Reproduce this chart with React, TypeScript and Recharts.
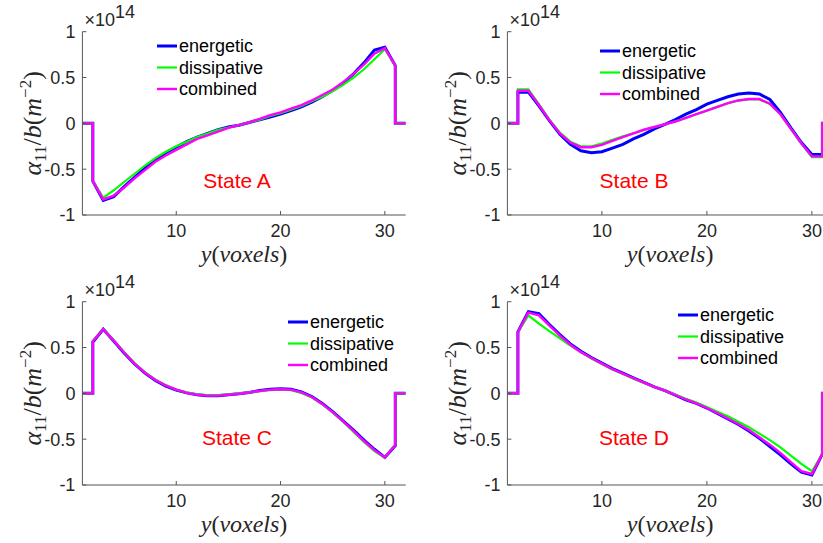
import React from "react";
import { Line, LineChart, XAxis, YAxis } from "recharts";

// voxel positions; the repeated 2 and 31 give the vertical jumps at the slab edges
const Y_VOXELS = [1, 2, 2, 3, 4, 5, 6, 7, 8, 9, 10, 11, 12, 13, 14, 15, 16, 17, 18, 19, 20, 21, 22, 23, 24, 25, 26, 27, 28, 29, 30, 31, 31, 32];
const X_TICKS = [10, 20, 30];
const Y_TICKS = [-1, -0.5, 0, 0.5, 1];

// values in units of 1e14
const A_ENERGETIC = [0, 0, -0.63, -0.84, -0.8, -0.69, -0.59, -0.49, -0.4, -0.32, -0.26, -0.2, -0.15, -0.11, -0.07, -0.04, -0.02, 0.01, 0.04, 0.07, 0.1, 0.14, 0.18, 0.23, 0.29, 0.36, 0.44, 0.54, 0.66, 0.8, 0.83, 0.63, 0, 0];
const A_DISSIPATIVE = [0, 0, -0.63, -0.81, -0.73, -0.64, -0.55, -0.46, -0.38, -0.31, -0.25, -0.2, -0.15, -0.11, -0.07, -0.045, -0.02, 0.01, 0.04, 0.08, 0.11, 0.15, 0.19, 0.24, 0.29, 0.35, 0.42, 0.5, 0.59, 0.7, 0.81, 0.63, 0, 0];
const A_COMBINED = [0, 0, -0.63, -0.83, -0.79, -0.7, -0.6, -0.51, -0.42, -0.35, -0.29, -0.23, -0.17, -0.13, -0.09, -0.05, -0.02, 0.01, 0.05, 0.09, 0.12, 0.16, 0.2, 0.25, 0.31, 0.37, 0.45, 0.54, 0.64, 0.76, 0.82, 0.63, 0, 0];

const B_ENERGETIC = [0, 0, 0.34, 0.34, 0.19, 0.03, -0.12, -0.23, -0.3, -0.32, -0.31, -0.27, -0.23, -0.17, -0.12, -0.06, -0.01, 0.04, 0.1, 0.15, 0.21, 0.25, 0.29, 0.32, 0.33, 0.32, 0.26, 0.12, -0.05, -0.21, -0.34, -0.34, 0, 0];
const B_DISSIPATIVE = [0, 0, 0.37, 0.37, 0.21, 0.04, -0.1, -0.2, -0.25, -0.25, -0.22, -0.18, -0.14, -0.11, -0.07, -0.04, -0.01, 0.02, 0.06, 0.1, 0.14, 0.18, 0.22, 0.25, 0.26, 0.26, 0.21, 0.1, -0.06, -0.22, -0.37, -0.37, 0, 0];
const B_COMBINED = [0, 0, 0.355, 0.355, 0.2, 0.035, -0.11, -0.21, -0.26, -0.26, -0.235, -0.19, -0.15, -0.11, -0.07, -0.04, -0.01, 0.02, 0.06, 0.1, 0.14, 0.18, 0.22, 0.25, 0.265, 0.265, 0.215, 0.1, -0.06, -0.22, -0.36, -0.36, 0, 0];

const C_ENERGETIC = [0, 0, 0.56, 0.7, 0.57, 0.44, 0.32, 0.22, 0.14, 0.08, 0.035, 0.005, -0.015, -0.025, -0.025, -0.015, -0.005, 0.01, 0.03, 0.045, 0.05, 0.045, 0.015, -0.035, -0.11, -0.2, -0.3, -0.4, -0.51, -0.61, -0.7, -0.57, 0, 0];
const C_DISSIPATIVE = [0, 0, 0.57, 0.7, 0.58, 0.45, 0.33, 0.23, 0.15, 0.09, 0.04, 0.01, -0.01, -0.02, -0.02, -0.01, 0, 0.01, 0.025, 0.035, 0.04, 0.035, 0.005, -0.045, -0.12, -0.21, -0.31, -0.42, -0.53, -0.63, -0.7, -0.56, 0, 0];
const C_COMBINED = [0, 0, 0.57, 0.7, 0.575, 0.445, 0.325, 0.225, 0.145, 0.085, 0.04, 0.005, -0.015, -0.025, -0.025, -0.015, -0.005, 0.01, 0.025, 0.04, 0.045, 0.04, 0.01, -0.04, -0.115, -0.205, -0.305, -0.41, -0.52, -0.62, -0.7, -0.565, 0, 0];

const D_ENERGETIC = [0, 0, 0.67, 0.89, 0.87, 0.75, 0.64, 0.54, 0.46, 0.39, 0.33, 0.27, 0.22, 0.17, 0.12, 0.07, 0.03, -0.02, -0.07, -0.11, -0.16, -0.22, -0.28, -0.34, -0.41, -0.49, -0.58, -0.67, -0.77, -0.86, -0.89, -0.66, 0, 0];
const D_DISSIPATIVE = [0, 0, 0.67, 0.85, 0.76, 0.68, 0.6, 0.52, 0.45, 0.38, 0.32, 0.26, 0.21, 0.16, 0.115, 0.07, 0.03, -0.015, -0.06, -0.1, -0.15, -0.2, -0.25, -0.31, -0.37, -0.44, -0.51, -0.59, -0.68, -0.77, -0.85, -0.66, 0, 0];
const D_COMBINED = [0, 0, 0.67, 0.88, 0.85, 0.74, 0.63, 0.53, 0.45, 0.385, 0.325, 0.265, 0.215, 0.165, 0.118, 0.07, 0.03, -0.018, -0.067, -0.11, -0.16, -0.215, -0.275, -0.335, -0.4, -0.48, -0.56, -0.65, -0.75, -0.85, -0.88, -0.66, 0, 0];

const SERIES = [
  { key: "energetic", color: "#0000ff", width: 3 },
  { key: "dissipative", color: "#00ff00", width: 2.2 },
  { key: "combined", color: "#ff00ff", width: 2.4 },
];

const AXIS = "#555555";
const INK = "#262626";
const SANS = "'Liberation Sans', Arial, sans-serif";
const SERIF = "'Liberation Serif', 'Times New Roman', serif";

const PLOT_LEFT = 82.4;
const PLOT_TOP = 31.7;
const PLOT_BOTTOM = 215;

function Panel({ left, top, width, state, stateX, stateY, legendX, legendY, energetic, dissipative, combined }) {
  const data = Y_VOXELS.map((x, i) => ({ x, energetic: energetic[i], dissipative: dissipative[i], combined: combined[i] }));
  const height = 270;
  const plotRight = width - 14.3;
  const midX = (PLOT_LEFT + plotRight) / 2;
  const midY = (PLOT_TOP + PLOT_BOTTOM) / 2;
  return (
    <>
      <div style={{ position: "absolute", left, top, width, height }}>
        <LineChart width={width} height={height} data={data} margin={{ top: PLOT_TOP, right: 14.3, bottom: 25, left: 22.4 }}>
          <XAxis
            dataKey="x"
            type="number"
            domain={[1, 32]}
            ticks={X_TICKS}
            interval={0}
            allowDataOverflow
            height={30}
            tickSize={-4}
            tickMargin={13}
            stroke={AXIS}
            tick={{ fill: INK, fontSize: 18, fontFamily: SANS }}
          />
          <XAxis xAxisId="top" orientation="top" type="number" domain={[1, 32]} ticks={X_TICKS} interval={0} allowDataOverflow height={0} tickSize={-4} tick={false} stroke={AXIS} />
          <YAxis
            type="number"
            domain={[-1, 1]}
            ticks={Y_TICKS}
            interval={0}
            allowDataOverflow
            width={60}
            tickSize={-4}
            tickMargin={11}
            stroke={AXIS}
            tick={{ fill: INK, fontSize: 18, fontFamily: SANS }}
          />
          <YAxis yAxisId="right" orientation="right" type="number" domain={[-1, 1]} ticks={Y_TICKS} interval={0} allowDataOverflow width={0} tickSize={-4} tick={false} stroke={AXIS} />
          {SERIES.map((s) => (
            <Line key={s.key} dataKey={s.key} type="linear" stroke={s.color} strokeWidth={s.width} dot={false} isAnimationActive={false} />
          ))}
        </LineChart>
      </div>
      <svg style={{ position: "absolute", left, top, overflow: "visible", pointerEvents: "none" }} width={width} height={height}>
        <text x={PLOT_LEFT + 2} y={PLOT_TOP - 6} fontFamily={SANS} fontSize={18} fill={INK}>
          ×10<tspan dy={-8}>14</tspan>
        </text>
        <text
          transform={`translate(${PLOT_LEFT - 41}, ${midY}) rotate(-90)`}
          textAnchor="middle"
          fontFamily={SERIF}
          fontSize={26}
          fill={INK}
        >
          <tspan fontStyle="italic">α</tspan>
          <tspan fontSize={17} dy={5}>11</tspan>
          <tspan dy={-5}>/</tspan>
          <tspan fontStyle="italic">b</tspan>
          <tspan>(</tspan>
          <tspan fontStyle="italic">m</tspan>
          <tspan fontSize={17} dy={-10}>−2</tspan>
          <tspan dy={10}>)</tspan>
        </text>
        <text x={midX} y={262} textAnchor="middle" fontFamily={SERIF} fontSize={24} fill={INK}>
          <tspan fontStyle="italic">y</tspan>
          <tspan>(</tspan>
          <tspan fontStyle="italic">voxels</tspan>
          <tspan>)</tspan>
        </text>
        <text x={stateX} y={stateY} textAnchor="middle" dominantBaseline="central" fontFamily={SANS} fontSize={21} fill="#ff0000">
          {state}
        </text>
        {SERIES.map((s, i) => (
          <g key={s.key}>
            <line x1={legendX} x2={legendX + 20} y1={legendY + i * 21.5} y2={legendY + i * 21.5} stroke={s.color} strokeWidth={s.width} />
            <text x={legendX + 22} y={legendY + i * 21.5} dominantBaseline="central" fontFamily={SANS} fontSize={18} fill="#000">
              {s.key}
            </text>
          </g>
        ))}
      </svg>
    </>
  );
}

export default function App() {
  return (
    <div style={{ position: "absolute", left: 0, top: 0, width: 823, height: 543, overflow: "hidden", background: "#fff" }}>
      <Panel left={0} top={0} width={420} state="State A" stateX={237} stateY={180} legendX={157} legendY={46} energetic={A_ENERGETIC} dissipative={A_DISSIPATIVE} combined={A_COMBINED} />
      <Panel left={424.8} top={0} width={422.2} state="State B" stateX={209} stateY={180} legendX={175} legendY={51} energetic={B_ENERGETIC} dissipative={B_DISSIPATIVE} combined={B_COMBINED} />
      <Panel left={0} top={270} width={420} state="State C" stateX={237} stateY={167} legendX={288} legendY={52} energetic={C_ENERGETIC} dissipative={C_DISSIPATIVE} combined={C_COMBINED} />
      <Panel left={424.8} top={270} width={422.2} state="State D" stateX={209} stateY={167} legendX={253} legendY={45} energetic={D_ENERGETIC} dissipative={D_DISSIPATIVE} combined={D_COMBINED} />
    </div>
  );
}
